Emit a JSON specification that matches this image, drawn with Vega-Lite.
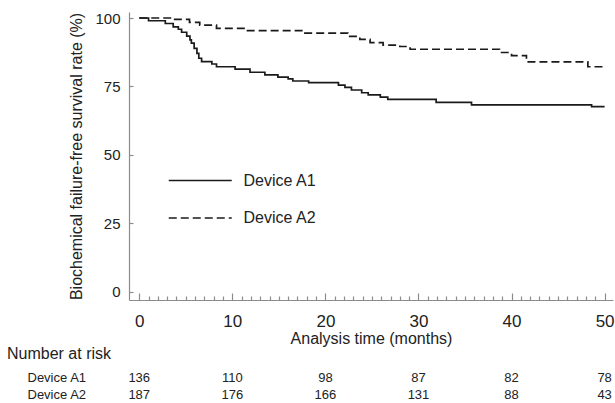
{
  "$schema": "https://vega.github.io/schema/vega-lite/v6.json",
  "background": "white",
  "padding": {"left": 7, "top": 11, "right": 0, "bottom": 0},
  "spacing": 0,
  "config": {
    "view": {"stroke": null},
    "font": "Liberation Sans",
    "axis": {
      "labelFont": "Liberation Sans",
      "titleFont": "Liberation Sans",
      "labelColor": "#222222",
      "titleColor": "#222222",
      "titleFontWeight": "normal",
      "domainColor": "#8c8c8c",
      "tickColor": "#8c8c8c",
      "domainWidth": 1.2,
      "tickWidth": 1.2,
      "grid": false
    }
  },
  "datasets": {
    "curves": [
      {"device": "Device A1", "t": 0, "s": 100},
      {"device": "Device A1", "t": 1.0, "s": 99.0},
      {"device": "Device A1", "t": 2.8, "s": 98.0},
      {"device": "Device A1", "t": 3.65, "s": 96.8},
      {"device": "Device A1", "t": 4.2, "s": 95.9},
      {"device": "Device A1", "t": 4.55, "s": 94.8},
      {"device": "Device A1", "t": 5.1, "s": 93.4},
      {"device": "Device A1", "t": 5.45, "s": 92.0},
      {"device": "Device A1", "t": 5.6, "s": 90.8},
      {"device": "Device A1", "t": 5.9, "s": 88.9},
      {"device": "Device A1", "t": 6.2, "s": 87.1},
      {"device": "Device A1", "t": 6.4, "s": 85.3},
      {"device": "Device A1", "t": 6.7, "s": 84.1},
      {"device": "Device A1", "t": 7.8, "s": 83.2},
      {"device": "Device A1", "t": 8.3, "s": 82.2},
      {"device": "Device A1", "t": 10.3, "s": 81.3},
      {"device": "Device A1", "t": 11.9, "s": 80.2},
      {"device": "Device A1", "t": 13.5, "s": 79.2},
      {"device": "Device A1", "t": 14.9, "s": 78.4},
      {"device": "Device A1", "t": 16.0, "s": 77.8},
      {"device": "Device A1", "t": 16.5, "s": 77.0},
      {"device": "Device A1", "t": 18.2, "s": 76.4},
      {"device": "Device A1", "t": 21.4, "s": 75.5},
      {"device": "Device A1", "t": 22.1, "s": 74.7},
      {"device": "Device A1", "t": 22.8, "s": 73.7},
      {"device": "Device A1", "t": 23.9, "s": 72.7},
      {"device": "Device A1", "t": 24.6, "s": 71.9},
      {"device": "Device A1", "t": 25.9, "s": 71.1},
      {"device": "Device A1", "t": 26.7, "s": 70.3},
      {"device": "Device A1", "t": 31.9, "s": 69.2},
      {"device": "Device A1", "t": 35.7, "s": 68.3},
      {"device": "Device A1", "t": 48.6, "s": 67.6},
      {"device": "Device A1", "t": 50.0, "s": 67.6},
      {"device": "Device A2", "t": 0, "s": 100},
      {"device": "Device A2", "t": 3.6, "s": 99.5},
      {"device": "Device A2", "t": 5.4, "s": 98.4},
      {"device": "Device A2", "t": 6.5, "s": 97.4},
      {"device": "Device A2", "t": 8.3, "s": 96.2},
      {"device": "Device A2", "t": 11.5, "s": 95.4},
      {"device": "Device A2", "t": 17.8, "s": 94.5},
      {"device": "Device A2", "t": 22.4, "s": 93.3},
      {"device": "Device A2", "t": 23.7, "s": 92.2},
      {"device": "Device A2", "t": 24.8, "s": 91.0},
      {"device": "Device A2", "t": 26.2, "s": 90.1},
      {"device": "Device A2", "t": 28.0, "s": 89.6},
      {"device": "Device A2", "t": 29.1, "s": 88.6},
      {"device": "Device A2", "t": 38.7, "s": 87.4},
      {"device": "Device A2", "t": 40.0, "s": 86.3},
      {"device": "Device A2", "t": 41.6, "s": 84.0},
      {"device": "Device A2", "t": 48.2, "s": 82.2},
      {"device": "Device A2", "t": 50.0, "s": 82.2}
    ],
    "risk": [
      {"device": "Device A1", "t": 0, "n": 136},
      {"device": "Device A1", "t": 10, "n": 110},
      {"device": "Device A1", "t": 20, "n": 98},
      {"device": "Device A1", "t": 30, "n": 87},
      {"device": "Device A1", "t": 40, "n": 82},
      {"device": "Device A1", "t": 50, "n": 78},
      {"device": "Device A2", "t": 0, "n": 187},
      {"device": "Device A2", "t": 10, "n": 176},
      {"device": "Device A2", "t": 20, "n": 166},
      {"device": "Device A2", "t": 30, "n": 131},
      {"device": "Device A2", "t": 40, "n": 88},
      {"device": "Device A2", "t": 50, "n": 43}
    ]
  },
  "vconcat": [
    {
      "width": 484,
      "height": 288,
      "data": {"name": "curves"},
      "mark": {"type": "line", "interpolate": "step-after", "strokeWidth": 1.7, "color": "#1a1a1a"},
      "encoding": {
        "x": {
          "field": "t",
          "type": "quantitative",
          "scale": {"domain": [-1.1, 50.9], "nice": false, "zero": false},
          "axis": {
            "values": [0,1,2,3,4,5,6,7,8,9,10,11,12,13,14,15,16,17,18,19,20,21,22,23,24,25,26,27,28,29,30,31,32,33,34,35,36,37,38,39,40,41,42,43,44,45,46,47,48,49,50],
            "labelExpr": "datum.value % 10 === 0 ? datum.label : ''",
            "tickSize": {"condition": {"test": "datum.value % 10 === 0", "value": -7}, "value": -4},
            "labelOverlap": false,
            "labelFlush": false,
            "labelFontSize": 17,
            "labelPadding": 20,
            "title": "Analysis time (months)",
            "titleFontSize": 16,
            "titlePadding": -2
          }
        },
        "y": {
          "field": "s",
          "type": "quantitative",
          "scale": {"domain": [-3, 102.2], "nice": false, "zero": false},
          "axis": {
            "values": [0, 25, 50, 75, 100],
            "tickSize": -4,
            "labelFontSize": 15,
            "labelPadding": 13,
            "title": "Biochemical failure-free survival rate (%)",
            "titleFontSize": 16,
            "titlePadding": 10
          }
        },
        "strokeDash": {
          "field": "device",
          "type": "nominal",
          "scale": {"domain": ["Device A1", "Device A2"], "range": [[1, 0], [8, 4]]},
          "legend": {
            "orient": "none",
            "legendX": 54.75,
            "legendY": 152,
            "title": null,
            "padding": 0,
            "symbolType": "M-2,0H2",
            "symbolSize": 992,
            "symbolStrokeColor": "#1a1a1a",
            "symbolStrokeWidth": 1.5,
            "labelFont": "Liberation Sans",
            "labelFontSize": 16,
            "labelColor": "#222222",
            "labelOffset": 26.75,
            "rowPadding": 12.5
          }
        }
      }
    },
    {
      "width": 484,
      "height": 34,
      "data": {"name": "risk"},
      "title": {
        "text": "Number at risk",
        "anchor": "start",
        "frame": "bounds",
        "orient": "top",
        "font": "Liberation Sans",
        "fontSize": 16,
        "fontWeight": "normal",
        "color": "#222222",
        "offset": 7,
        "dx": -20
      },
      "mark": {"type": "text", "font": "Liberation Sans", "fontSize": 13, "color": "#222222"},
      "encoding": {
        "x": {"field": "t", "type": "quantitative", "scale": {"domain": [-1.1, 50.9], "nice": false, "zero": false}, "axis": null},
        "y": {
          "field": "device",
          "type": "nominal",
          "scale": {"domain": ["Device A1", "Device A2"]},
          "axis": {
            "title": null,
            "domain": false,
            "ticks": false,
            "labelAlign": "left",
            "labelPadding": 102,
            "labelFont": "Liberation Sans",
            "labelFontSize": 13,
            "labelColor": "#222222"
          }
        },
        "text": {"field": "n", "type": "quantitative"}
      }
    }
  ]
}
